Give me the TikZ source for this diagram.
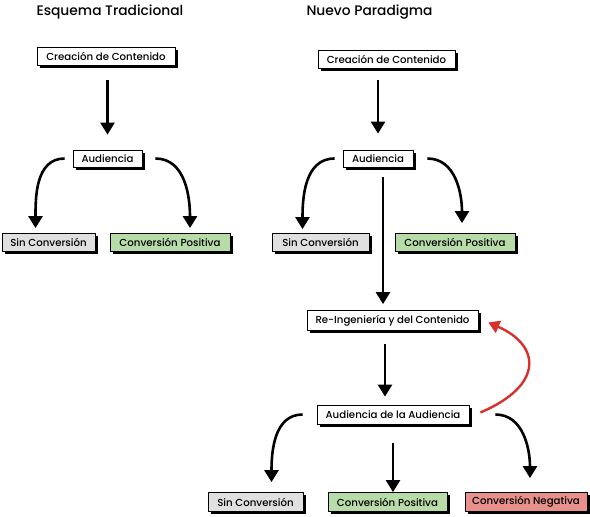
\documentclass[tikz,border=0pt]{standalone}
\usepackage{fontspec}
\setmainfont{Poppins}[UprightFont=*-Medium]
\usetikzlibrary{arrows.meta,shadows}
\definecolor{boxgrey}{HTML}{E0E0E0}
\definecolor{boxgreen}{HTML}{B8DCA8}
\definecolor{boxred}{HTML}{E8908A}
\definecolor{loopred}{HTML}{D8312B}
\begin{document}
\begin{tikzpicture}[x=1pt,y=1pt,
  box/.style={draw=black,line width=0.8pt,fill=white,minimum height=18pt,
    inner sep=0pt,font=\fontsize{10.2}{11}\selectfont,
    drop shadow={shadow xshift=2.5pt,shadow yshift=-2.5pt,fill=black,opacity=1}},
  grey/.style={box,fill=boxgrey},
  green/.style={box,fill=boxgreen},
  red/.style={box,fill=boxred},
  heading/.style={anchor=west,font=\fontsize{13.8}{15}\selectfont},
  arr/.style={line width=2.6pt,-{Triangle[width=14pt,length=12pt]}},
  loop/.style={arr,draw=loopred,line width=2.4pt,-{Triangle[width=13pt,length=11pt,fill=loopred]}}]
\useasboundingbox (0,0) rectangle (590,-517);

% headings
\node[heading] (tleft) at (33,-12) {Esquema Tradicional};
\node[heading] (tright) at (303,-12) {Nuevo Paradigma};

% traditional scheme
\node[box,minimum width=138pt] (Lcrea) at (106,-56) {Creación de Contenido};
\node[box,minimum width=69pt,minimum height=17pt] (Laud) at (107.5,-158.5) {Audiencia};
\node[grey,minimum width=93pt] (Lsin) at (48.5,-242.5) {Sin Conversión};
\node[green,minimum width=120pt] (Lpos) at (170,-242.5) {Conversión Positiva};

\draw[arr] ([yshift=-15pt]Laud.north |- Lcrea.south) -- ([yshift=15pt]Laud.north);
\draw[arr] ([xshift=-8pt]Laud.west) to[out=180,in=90] ([xshift=-13pt,yshift=5pt]Lsin.north);
\draw[arr] ([xshift=13pt]Laud.east) to[out=0,in=90] ([xshift=20pt,yshift=5pt]Lpos.north);

% new paradigm
\node[box,minimum width=137pt] (Rcrea) at (386.5,-59) {Creación de Contenido};
\node[box,minimum width=70pt,minimum height=17pt] (Raud) at (378,-158.5) {Audiencia};
\node[grey,minimum width=97pt] (Rsin) at (320.5,-242.5) {Sin Conversión};
\node[green,minimum width=120pt] (Rpos) at (455,-242.5) {Conversión Positiva};
\node[box,minimum width=171pt,minimum height=20pt] (Reing) at (392.5,-320.5) {Re-Ingeniería y del Contenido};
\node[box,minimum width=152pt,minimum height=19pt] (AA) at (393,-414.5) {Audiencia de la Audiencia};
\node[grey,minimum width=95pt,minimum height=19pt] (Bsin) at (255.5,-502) {Sin Conversión};
\node[green,minimum width=119pt,minimum height=19pt] (Bpos) at (387.5,-502) {Conversión Positiva};
\node[red,minimum width=122pt,minimum height=19pt] (Bneg) at (526,-502) {Conversión Negativa};

\draw[arr] ([yshift=-12pt]Raud.north |- Rcrea.south) -- ([yshift=16pt]Raud.north);
\draw[arr] ([xshift=-8pt]Raud.west) to[out=180,in=90] ([xshift=-18pt,yshift=4pt]Rsin.north);
\draw[arr] ([xshift=14pt]Raud.east) to[out=0,in=90] ([xshift=7pt,yshift=10pt]Rpos.north);
\draw[arr] ([xshift=5pt,yshift=-10pt]Raud.south) -- ([xshift=5pt,yshift=6pt]Raud.south |- Reing.north);
\draw[arr] ([xshift=-8pt,yshift=-13pt]AA.north |- Reing.south) -- ([xshift=-8pt,yshift=8pt]AA.north);
\draw[arr] ([xshift=-14pt]AA.west) to[out=180,in=90] ([xshift=16pt,yshift=10pt]Bsin.north);
\draw[arr] ([yshift=-19pt]AA.south) -- (AA.south |- Bpos.north);
\draw[arr] ([xshift=26pt]AA.east) to[out=0,in=90] ([xshift=4pt,yshift=14pt]Bneg.north);
\draw[loop] ([xshift=11pt,yshift=2pt]AA.east) .. controls (545,-385) and (540,-345) .. ([xshift=10pt,yshift=-2pt]Reing.east);
\end{tikzpicture}
\end{document}
